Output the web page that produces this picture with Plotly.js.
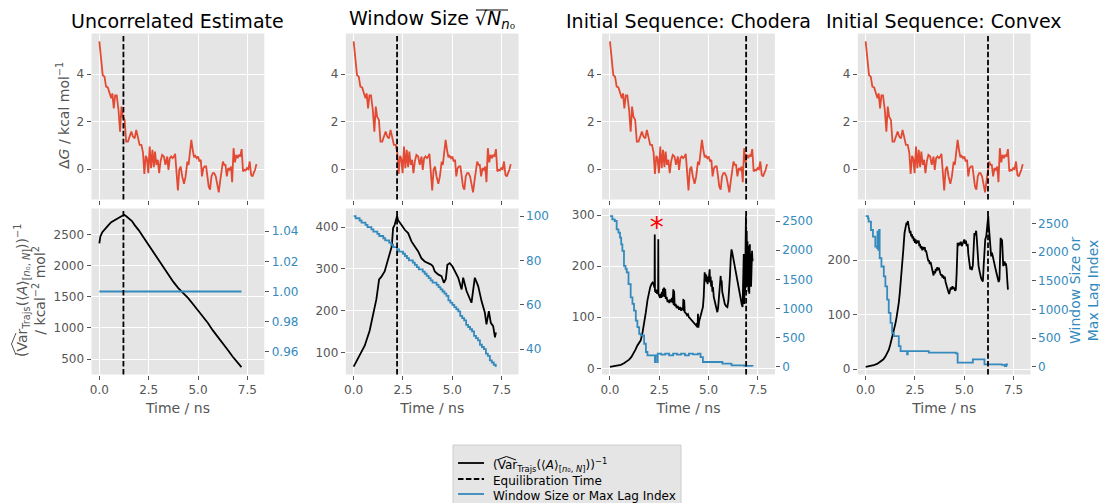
<!DOCTYPE html>
<html>
<head>
<meta charset="utf-8">
<script src="https://cdn.plot.ly/plotly-3.0.1.min.js"></script>
<style>
  html, body { margin: 0; padding: 0; background: #ffffff; }
  #chart { width: 1100px; height: 503px; }
</style>
</head>
<body>
<div id="chart"></div>
<script>
// Free-energy estimate ΔG (kcal/mol) along the simulation, shared by all four top panels
const dgTime = [0.00,0.09,0.17,0.26,0.34,0.43,0.51,0.60,0.66,0.73,0.80,0.88,0.97,1.05,1.12,1.19,1.28,1.36,1.45,1.53,
  1.62,1.70,1.79,1.87,1.96,2.04,2.13,2.21,2.28,2.35,2.41,2.48,2.55,2.62,2.69,2.76,2.82,2.89,2.96,3.03,
  3.10,3.18,3.27,3.35,3.44,3.50,3.57,3.64,3.71,3.78,3.84,3.91,3.98,4.05,4.12,4.20,4.29,4.37,4.46,4.52,
  4.59,4.66,4.73,4.80,4.86,4.93,5.00,5.07,5.14,5.20,5.27,5.34,5.41,5.48,5.54,5.61,5.68,5.75,5.82,5.90,
  5.99,6.05,6.12,6.19,6.26,6.33,6.39,6.46,6.53,6.60,6.67,6.73,6.80,6.87,6.94,7.01,7.07,7.14,7.21,7.28,
  7.35,7.41,7.48,7.55,7.62,7.69,7.76,7.82,7.89,7.96];
const dgValue = [5.38,4.59,3.96,3.89,3.47,3.44,3.19,2.98,3.19,2.56,3.10,3.10,2.49,1.58,2.63,2.21,2.07,1.16,1.16,1.37,
  1.58,1.37,1.30,1.65,1.37,1.02,1.02,0.70,-0.20,0.56,0.46,-0.17,0.95,0.04,0.81,0.08,0.74,0.18,0.39,-0.17,
  0.32,0.60,0.53,0.18,0.53,-0.03,0.46,0.53,0.46,0.53,0.64,-0.03,-0.90,-0.03,0.11,-0.31,-0.62,-0.31,0.32,0.18,
  0.81,1.23,0.81,0.50,0.56,0.46,0.53,0.32,0.39,-0.31,0.04,0.11,0.11,-0.31,-0.73,-0.87,-0.31,-0.17,-0.17,-0.31,
  -0.73,-0.98,-0.52,-0.03,0.32,0.18,0.18,-0.31,0.04,-0.03,0.11,-0.55,0.88,0.28,0.60,0.46,0.60,0.53,0.84,-0.10,
  -0.03,-0.06,0.04,0.00,0.32,-0.24,-0.31,-0.17,-0.03,0.21];

// Equilibration time (ns) chosen by each method
const methods = ['Uncorrelated Estimate', 'Window Size', 'Initial Sequence: Chodera', 'Initial Sequence: Convex'];
const equilTime = [1.22, 2.20, 6.90, 6.20];

// Inverse variance of the mean, per method
const uncorrTime = [0,0.05,0.15,0.30,0.45,0.60,0.75,0.90,1.05,1.15,1.25,1.35,1.50,1.65,1.80,2.00,2.25,2.50,2.75,3.00,
  3.25,3.50,3.75,4.00,4.25,4.50,4.75,5.00,5.25,5.50,5.75,6.00,6.25,6.50,6.75,7.00,7.20];
const uncorrInvVar = [2360,2470,2540,2600,2650,2700,2730,2760,2790,2805,2820,2800,2760,2720,2650,2570,2450,2330,2200,2080,
  1960,1840,1740,1640,1560,1480,1380,1280,1180,1080,960,860,760,650,540,450,370];

const windowTime = [0,0.30,0.56,0.81,0.98,1.15,1.29,1.40,1.57,1.69,1.83,1.93,2.00,2.08,2.20,2.25,2.42,2.59,2.76,2.93,
  3.10,3.27,3.43,3.60,3.77,3.94,4.02,4.11,4.28,4.45,4.57,4.67,4.75,4.87,5.01,5.13,5.30,5.47,5.55,5.72,
  5.89,5.97,6.14,6.31,6.48,6.65,6.73,6.85,6.95,7.07,7.16,7.21];
const windowInvVar = [66,92,116,152,191,227,275,281,294,314,334,354,398,406,427,417,406,394,386,366,
  354,342,326,318,314,310,306,294,287,283,267,276,310,314,306,294,279,251,279,247,
  227,219,279,259,223,195,167,199,171,163,136,148];

const choderaTime = [0,0.2,0.37,0.55,0.71,0.85,0.97,1.08,1.19,1.3,1.39,1.48,1.56,1.65,1.73,1.82,1.90,1.97,2.04,2.10,
  2.16,2.20,2.24,2.26,2.27,2.28,2.30,2.33,2.36,2.39,2.42,2.44,2.45,2.46,2.50,2.54,2.57,2.60,2.63,2.66,
  2.69,2.71,2.74,2.77,2.80,2.83,2.87,2.92,2.97,3.01,3.05,3.10,3.14,3.18,3.21,3.23,3.25,3.28,3.33,3.38,
  3.44,3.50,3.56,3.61,3.66,3.70,3.72,3.74,3.76,3.79,3.85,3.90,3.95,4.00,4.06,4.12,4.18,4.25,4.31,4.37,
  4.41,4.44,4.46,4.48,4.52,4.56,4.60,4.65,4.71,4.75,4.78,4.80,4.82,4.84,4.86,4.88,4.90,4.93,4.95,4.98,
  5.00,5.03,5.05,5.07,5.10,5.13,5.16,5.19,5.22,5.26,5.31,5.37,5.44,5.48,5.52,5.55,5.58,5.61,5.63,5.66,
  5.69,5.73,5.78,5.82,5.88,5.95,6.00,6.04,6.08,6.12,6.16,6.20,6.25,6.33,6.42,6.50,6.57,6.63,6.68,6.72,
  6.74,6.76,6.78,6.80,6.81,6.83,6.85,6.87,6.89,6.90,6.91,6.92,6.93,6.94,6.95,6.96,6.97,6.98,6.99,7.00,
  7.01,7.02,7.03,7.04,7.05,7.06,7.07,7.08,7.09,7.10,7.11,7.12,7.13,7.15,7.16,7.18,7.20,7.22,7.23];
const choderaInvVar = [3,4,5,7,10,13,17,22,29,37,45,50,55,70,87,110,133,148,159,165,
  168,166,160,158,262,150,152,148,154,146,150,146,253,145,142,138,146,138,150,140,
  156,142,158,140,156,136,140,130,134,128,135,130,138,128,155,124,152,122,126,118,
  122,115,120,113,118,116,136,112,134,110,108,104,106,100,98,95,92,90,86,84,
  88,80,107,80,92,98,104,112,120,140,165,188,172,185,170,183,168,180,165,178,
  170,190,194,168,180,160,172,150,159,140,133,120,110,118,135,150,165,181,165,172,
  150,140,130,126,122,120,132,150,180,215,233,226,215,204,180,159,145,133,125,120,
  170,140,224,150,126,200,150,230,298,180,240,200,269,160,230,165,249,170,235,160,
  240,150,225,150,230,146,220,155,243,160,225,175,225,160,215,205,230,210,215];

const convexTime = [0,0.2,0.41,0.6,0.75,0.9,1.00,1.08,1.17,1.25,1.34,1.42,1.51,1.57,1.63,1.68,1.73,1.79,1.85,1.91,
  1.97,2.02,2.07,2.10,2.14,2.18,2.21,2.24,2.27,2.31,2.34,2.37,2.41,2.44,2.47,2.50,2.53,2.57,2.61,2.65,
  2.69,2.72,2.75,2.79,2.83,2.87,2.90,2.94,2.99,3.03,3.06,3.10,3.14,3.18,3.21,3.25,3.29,3.33,3.37,3.41,
  3.44,3.48,3.52,3.55,3.59,3.63,3.67,3.71,3.75,3.78,3.82,3.86,3.89,3.93,3.97,4.01,4.05,4.10,4.15,4.19,
  4.23,4.27,4.31,4.35,4.40,4.45,4.49,4.53,4.57,4.61,4.64,4.66,4.70,4.74,4.78,4.82,4.87,4.91,4.95,5.00,
  5.04,5.08,5.12,5.17,5.20,5.23,5.26,5.30,5.34,5.38,5.43,5.47,5.51,5.55,5.60,5.64,5.68,5.72,5.77,5.81,
  5.85,5.90,5.94,5.98,6.02,6.06,6.11,6.14,6.16,6.19,6.21,6.23,6.26,6.30,6.33,6.36,6.40,6.44,6.48,6.53,
  6.57,6.62,6.66,6.70,6.74,6.78,6.81,6.84,6.88,6.91,6.94,6.97,7.00,7.04,7.08,7.11,7.14,7.18,7.21];
const convexInvVar = [4,5,7,10,14,18,23,28,35,45,57,70,84,96,109,122,140,162,189,220,
  250,262,269,265,272,262,258,250,254,244,248,240,244,235,240,232,238,230,236,232,
  236,226,230,222,226,218,224,220,224,216,218,208,204,198,200,193,197,190,184,178,
  172,180,176,184,180,187,182,186,178,176,172,174,168,172,166,170,160,152,146,142,
  138,146,150,146,152,147,150,144,146,175,220,232,226,232,228,234,226,230,236,238,
  230,236,226,230,212,198,192,183,188,182,190,215,250,246,254,235,210,190,180,172,
  167,163,161,190,232,238,244,255,263,272,281,268,250,232,214,207,214,206,198,192,
  186,178,170,164,160,165,210,241,236,238,215,189,195,198,190,194,185,161,146];

// Window size / maximum lag index used at each trial equilibration time
const uncorrWinTime = [0, 7.20];
const uncorrWin = [1, 1];

const windowWinTime = [0,0.1,0.2,0.3,0.4,0.5,0.6,0.7,0.8,0.9,1.0,1.1,1.2,1.3,1.4,1.5,1.6,1.7,1.8,1.9,
  2.0,2.1,2.2,2.3,2.4,2.5,2.6,2.7,2.8,2.9,3.0,3.1,3.2,3.3,3.4,3.5,3.6,3.7,3.8,3.9,
  4.0,4.1,4.2,4.3,4.4,4.5,4.6,4.7,4.8,4.9,5.0,5.1,5.2,5.3,5.4,5.5,5.6,5.7,5.8,5.9,
  6.0,6.1,6.2,6.3,6.4,6.5,6.6,6.7,6.8,6.9,7.0,7.1,7.2];
const windowWin = [100,99,99,98,97,97,96,95,95,94,93,93,92,91,91,90,89,89,88,87,
  86,86,85,84,84,83,82,81,80,80,79,78,77,76,76,75,74,73,72,71,
  70,70,69,68,67,66,65,64,62,61,60,59,58,57,55,54,53,51,50,49,
  48,46,45,44,42,41,40,38,37,35,34,33,32];

const choderaWinTime = [0,0.12,0.24,0.34,0.43,0.51,0.57,0.63,0.71,0.79,0.85,0.94,1.05,1.14,1.22,1.31,1.39,1.48,1.56,1.65,
  1.73,1.82,1.90,2.24,2.28,2.30,2.40,2.42,2.60,2.80,3.00,3.20,3.40,3.60,3.80,4.00,4.20,4.46,4.59,4.71,
  5.65,5.70,6.16,6.60,6.80,7.23];
const choderaWin = [2585,2528,2500,2358,2301,2216,2100,1989,1733,1680,1619,1420,1193,1080,966,795,682,568,540,540,
  398,256,199,199,85,199,85,227,210,227,200,227,210,227,200,227,215,227,170,85,
  85,57,28,28,20,11];

const convexWinTime = [0,0.12,0.15,0.27,0.37,0.49,0.58,0.60,0.64,0.68,0.71,0.80,0.92,1.00,1.09,1.17,1.26,1.34,1.43,1.63,
  1.68,1.77,2.07,2.10,2.13,3.13,3.20,4.57,4.66,5.43,5.94,6.02,6.90,7.05,7.13,7.21];
const convexWin = [2627,2587,2529,2384,2269,2096,2067,2355,2038,2384,1893,1749,1576,1403,1172,941,768,595,537,537,
  364,277,277,219,277,277,248,237,75,133,133,46,35,17,46,46];

// Marker flagging the sharp spikes in the Chodera estimate
const flagTime = [2.37];
const flagInvVar = [270];

const xTickVals = [0, 2.5, 5, 7.5];
const xTickText = ['0.0', '2.5', '5.0', '7.5'];

// Legend entries (drawn by hand so the rows can sit close together)
const legendLabels = [
  '(Var<sub>Trajs</sub>(⟨<i>A</i>⟩<sub>[<i>n</i>₀, <i>N</i>]</sub>))<sup>−1</sup>',
  'Equilibration Time',
  'Window Size or Max Lag Index',
];

// ---------------------------------------------------------------------------
const FONT = 'DejaVu Sans, Verdana, sans-serif';
const RED = '#E24A33', BLUE = '#348ABD', GREY = '#555555', BG = '#E5E5E5';
const W = 1100, H = 503;
const LW = 1.8;
const DASH = '5.5px,2.4px';

const colLeft = [91.5, 345.8, 602.1, 857.8];
const colWidth = 172.8;
const topPx = [33.5, 199.5];
const botPx = [208.5, 374.5];
const px2x = p => p / W;
const px2y = p => 1 - p / H;
const xRange = [-0.398, 8.358];
const dgRange = [-1.28, 5.71];
const botRanges = [[251, 2921], [47, 445], [-12, 313], [-10, 295]];
const rightRanges = [[0.945, 1.055], [28.6, 103.4], [-129, 2714], [-131, 2758]];
const rightTicks = [[0.96, 0.98, 1.00, 1.02, 1.04], [40, 60, 80, 100], [0, 500, 1000, 1500, 2000, 2500], [0, 500, 1000, 1500, 2000, 2500]];
const rightTickText = [['0.96', '0.98', '1.00', '1.02', '1.04'], null, null, null];
const leftBotTicks = [[500, 1000, 1500, 2000, 2500], [100, 200, 300, 400], [0, 100, 200, 300], [0, 100, 200]];

const invVarTime = [uncorrTime, windowTime, choderaTime, convexTime];
const invVarVal = [uncorrInvVar, windowInvVar, choderaInvVar, convexInvVar];
const winTime = [uncorrWinTime, windowWinTime, choderaWinTime, convexWinTime];
const winVal = [uncorrWin, windowWin, choderaWin, convexWin];

const tickFont = { family: FONT, size: 12, color: GREY };
const layout = {
  width: W, height: H,
  margin: { l: 0, r: 0, t: 0, b: 0 },
  paper_bgcolor: '#ffffff',
  plot_bgcolor: BG,
  font: { family: FONT, color: '#000000' },
  showlegend: false,
  shapes: [],
  annotations: [],
};

const baseAxis = {
  ticks: 'outside', ticklen: 4, tickwidth: 1, tickcolor: GREY,
  showgrid: true, gridcolor: '#ffffff', gridwidth: 1,
  zeroline: false, showline: false, tickfont: tickFont,
};

const traces = [];
for (let i = 0; i < 4; i++) {
  const xd = [px2x(colLeft[i]), px2x(colLeft[i] + colWidth)];
  const tx = i === 0 ? 'x' : 'x' + (i + 1);
  const ty = i === 0 ? 'y' : 'y' + (i + 1);
  const bx = 'x' + (i + 5), by = 'y' + (i + 5), ry = 'y' + (i + 9);

  layout[i === 0 ? 'xaxis' : 'xaxis' + (i + 1)] = Object.assign({}, baseAxis, {
    domain: xd, anchor: ty, range: xRange, tickvals: xTickVals, ticktext: xTickText, showticklabels: false,
  });
  layout[i === 0 ? 'yaxis' : 'yaxis' + (i + 1)] = Object.assign({}, baseAxis, {
    domain: [px2y(topPx[1]), px2y(topPx[0])], anchor: tx, range: dgRange, tickvals: [0, 2, 4],
  });
  layout['xaxis' + (i + 5)] = Object.assign({}, baseAxis, {
    domain: xd, anchor: by, range: xRange, tickvals: xTickVals, ticktext: xTickText,
    title: { text: 'Time / ns', font: { family: FONT, size: 14, color: GREY }, standoff: 7 },
  });
  layout['yaxis' + (i + 5)] = Object.assign({}, baseAxis, {
    domain: [px2y(botPx[1]), px2y(botPx[0])], anchor: bx, range: botRanges[i], tickvals: leftBotTicks[i],
  });
  const right = Object.assign({}, baseAxis, {
    overlaying: by, side: 'right', anchor: bx, range: rightRanges[i], tickvals: rightTicks[i],
    showgrid: false, tickfont: { family: FONT, size: 12, color: BLUE },
  });
  if (rightTickText[i]) right.ticktext = rightTickText[i];
  layout['yaxis' + (i + 9)] = right;

  traces.push({ x: dgTime, y: dgValue, xaxis: tx, yaxis: ty, type: 'scatter', mode: 'lines',
    line: { color: RED, width: LW }, hoverinfo: 'skip' });
  traces.push({ x: invVarTime[i], y: invVarVal[i], xaxis: bx, yaxis: by, type: 'scatter', mode: 'lines',
    line: { color: '#000000', width: LW }, hoverinfo: 'skip' });
  traces.push({ x: winTime[i], y: winVal[i], xaxis: bx, yaxis: ry, type: 'scatter', mode: 'lines',
    line: { color: BLUE, width: LW, shape: i === 0 ? 'linear' : 'hv' }, hoverinfo: 'skip' });

  // equilibration time in both panels of the column
  [[tx, ty], [bx, by]].forEach(([ax, ay]) => {
    layout.shapes.push({
      type: 'line', xref: ax, yref: ay + ' domain', x0: equilTime[i], x1: equilTime[i], y0: 0, y1: 1,
      line: { color: '#000000', width: LW, dash: DASH }, layer: 'above',
    });
  });

  layout.annotations.push({
    xref: 'paper', yref: 'paper', x: (xd[0] + xd[1]) / 2, y: px2y(34), yanchor: 'bottom', xanchor: 'center',
    text: i === 1 ? 'Window Size √<i>N</i><sub><i>n</i>₀</sub>' : methods[i], showarrow: false,
    font: { family: FONT, size: 19, color: '#000000' },
  });
}

traces.push({ x: flagTime, y: flagInvVar, xaxis: 'x7', yaxis: 'y7', type: 'scatter', mode: 'text',
  text: ['*'], textposition: 'middle center', textfont: { family: FONT, size: 28, color: '#FF0000' },
  hoverinfo: 'skip' });

// small pixel-placed strokes: radical bar and the wide hats over "Var"
const pxPath = pts => pts.map((p, k) => (k ? 'L' : 'M') + px2x(p[0]).toFixed(5) + ',' + px2y(p[1]).toFixed(5)).join(' ');
layout.shapes.push({ type: 'path', xref: 'paper', yref: 'paper', path: pxPath([[476, 10], [508, 10]]),
  line: { color: '#000000', width: 1.2 } });
layout.shapes.push({ type: 'path', xref: 'paper', yref: 'paper', path: pxPath([[16, 355], [11.5, 344], [16, 333]]),
  line: { color: GREY, width: 1 } });

// axis labels
layout.annotations.push({
  xref: 'paper', yref: 'paper', x: px2x(63), y: px2y(116), xanchor: 'center', yanchor: 'middle',
  textangle: -90, showarrow: false, font: { family: FONT, size: 14, color: GREY },
  text: 'Δ<i>G</i> / kcal mol<sup>−1</sup>',
});
layout.annotations.push({
  xref: 'paper', yref: 'paper', x: px2x(30), y: px2y(291), xanchor: 'center', yanchor: 'middle',
  textangle: -90, showarrow: false, font: { family: FONT, size: 14, color: GREY },
  text: '(Var<sub>Trajs</sub>(⟨<i>A</i>⟩<sub>[<i>n</i>₀, <i>N</i>]</sub>))<sup>−1</sup><br>/ kcal<sup>−2</sup> mol<sup>2</sup>',
});
layout.annotations.push({
  xref: 'paper', yref: 'paper', x: px2x(1084), y: px2y(291), xanchor: 'center', yanchor: 'middle',
  textangle: -90, showarrow: false, font: { family: FONT, size: 14, color: BLUE },
  text: 'Window Size or<br>Max Lag Index',
});

// legend box, samples and labels
const legRows = [463, 479, 494];
const legTextShift = [1.5, 1.5, 1.5];
const legStyles = [
  { color: '#000000', width: LW },
  { color: '#000000', width: LW, dash: DASH },
  { color: BLUE, width: LW },
];
layout.shapes.push({ type: 'rect', xref: 'paper', yref: 'paper', x0: px2x(453), x1: px2x(681), y0: px2y(445), y1: px2y(530),
  fillcolor: BG, line: { color: '#CCCCCC', width: 1 }, layer: 'above' });
legRows.forEach((ry, k) => {
  layout.shapes.push({ type: 'line', xref: 'paper', yref: 'paper', x0: px2x(458), x1: px2x(484), y0: px2y(ry), y1: px2y(ry),
    line: legStyles[k], layer: 'above' });
  layout.annotations.push({ xref: 'paper', yref: 'paper', x: px2x(491), y: px2y(ry + legTextShift[k]), xanchor: 'left', yanchor: 'middle',
    text: legendLabels[k], showarrow: false, font: { family: FONT, size: 12, color: '#000000' } });
});
layout.shapes.push({ type: 'path', xref: 'paper', yref: 'paper', path: pxPath([[497, 460], [506.5, 456.5], [516, 460]]),
  line: { color: '#000000', width: 1 }, layer: 'above' });

Plotly.newPlot('chart', traces, layout, { staticPlot: true, displayModeBar: false });
</script>
</body>
</html>
